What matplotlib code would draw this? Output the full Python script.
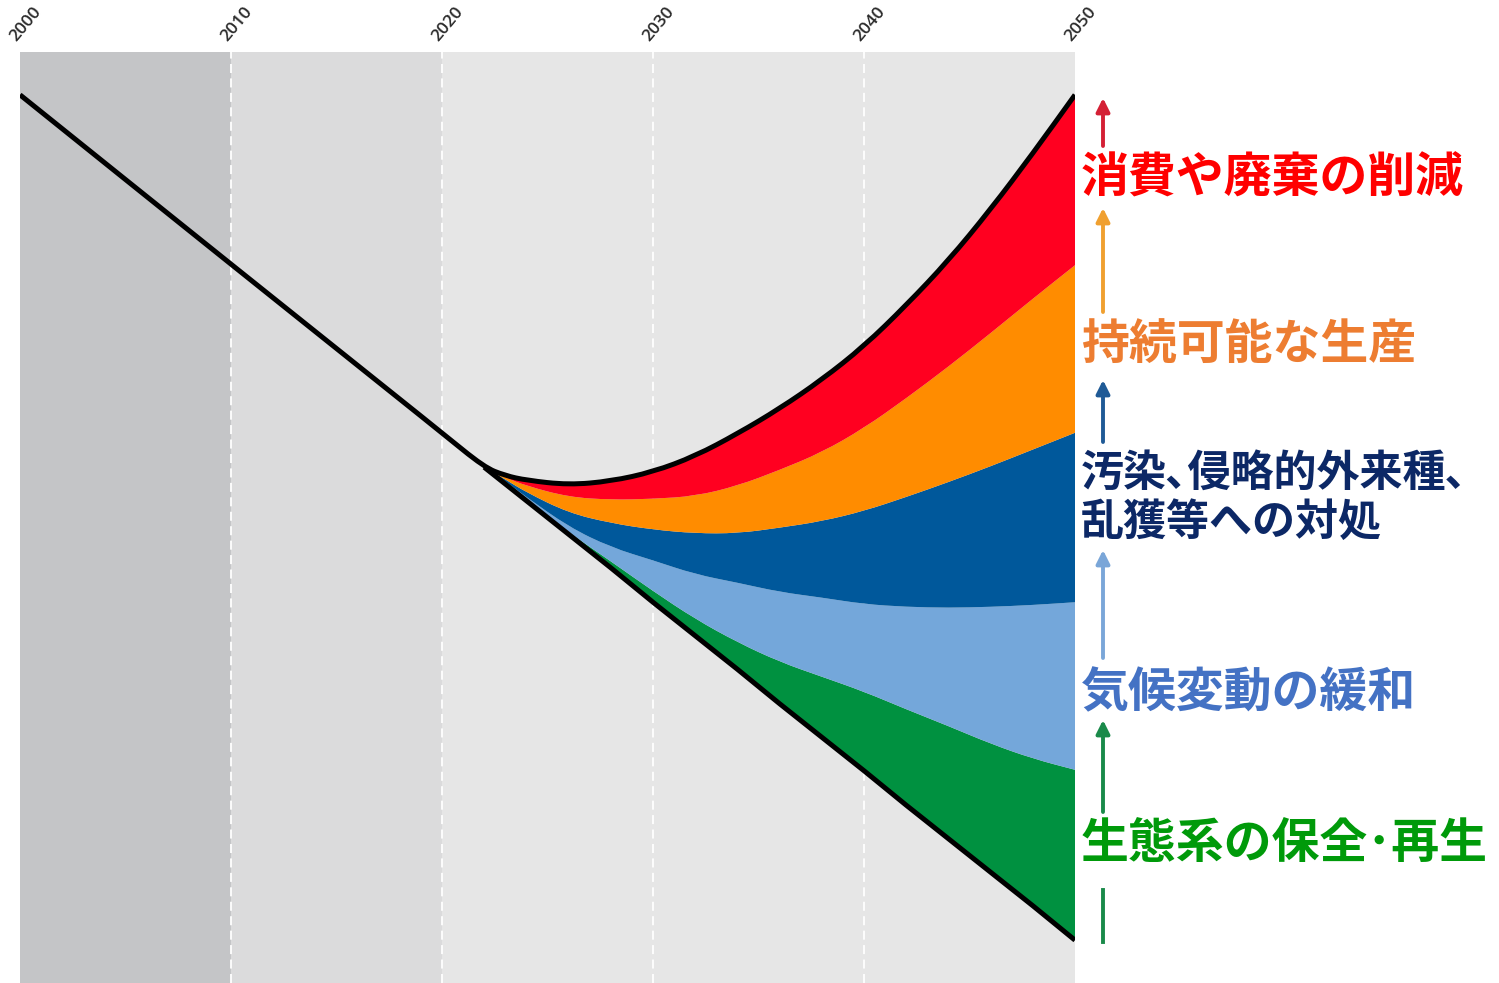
import matplotlib
matplotlib.use("Agg")
import matplotlib.pyplot as plt
from matplotlib.path import Path
from matplotlib.patches import PathPatch, FancyArrowPatch
from matplotlib.lines import Line2D

plt.rcParams['font.family'] = ['Noto Sans CJK JP', 'DejaVu Sans']

# ---- data (biodiversity index) ----
hist_years = [2000, 2010, 2020]
hist_values = [95.4, 77.2, 59.1]

years = [2022, 2023, 2024, 2026, 2028, 2030, 2032, 2034, 2036, 2038, 2040,
         2042, 2044, 2046, 2048, 2050]
# business-as-usual trend (bottom black line)
baseline = [55.4, 53.6, 51.8, 48.2, 44.6, 40.9, 37.3, 33.7, 30.0, 26.4, 22.8,
            19.1, 15.5, 11.9, 8.3, 4.6]
# cumulative upper edges of each action band
conservation = [55.4, 53.7, 51.9, 48.4, 45.3, 42.1, 39.1, 36.6, 34.5, 32.9, 31.3,
                29.4, 27.6, 25.7, 24.1, 22.9]
climate = [55.4, 53.9, 52.2, 49.0, 46.8, 45.4, 43.9, 43.0, 42.0, 41.4, 40.7,
           40.4, 40.3, 40.4, 40.6, 40.9]
threats = [55.4, 54.1, 52.7, 50.5, 49.4, 48.7, 48.3, 48.3, 48.9, 49.6, 50.7,
           52.2, 53.8, 55.5, 57.3, 59.1]
production = [55.4, 54.3, 53.4, 52.2, 51.9, 52.0, 52.3, 53.4, 55.1, 57.0, 59.6,
              62.8, 66.2, 69.8, 73.5, 77.1]
consumption = [55.4, 54.5, 54.0, 53.5, 53.9, 54.9, 56.6, 59.0, 61.7, 64.8, 68.4,
               72.8, 77.6, 83.1, 89.1, 95.4]

decade_ticks = [2000, 2010, 2020, 2030, 2040, 2050]
period_edges = [2000, 2010, 2020, 2050]

labels = ['消費や廃棄の削減', '持続可能な生産', '汚染､侵略的外来種､\n乱獲等への対処',
          '気候変動の緩和', '生態系の保全･再生']

# ---- styles ----
band_colors = ['#009140', '#74a7da', '#00589b', '#ff8c00', '#ff0020']
label_colors = ['#ff0000', '#ed7d31', '#0c2866', '#4472c4', '#009a0a']
label_sizes = [34.5, 34.5, 31, 34.5, 34.5]
arrow_colors = ['#d42035', '#f0a030', '#1f5a96', '#7aa6d8', '#1a8a4a']
period_colors = ['#c4c5c7', '#dbdbdc', '#e6e6e6']


def smooth(xs, ys):
    """Quadratic B-spline style path through the first/last points."""
    n = len(xs)
    verts = [(xs[0], ys[0]), ((xs[0] + xs[1]) / 2, (ys[0] + ys[1]) / 2)]
    codes = [Path.MOVETO, Path.LINETO]
    for i in range(1, n - 1):
        verts += [(xs[i], ys[i]), ((xs[i] + xs[i + 1]) / 2, (ys[i] + ys[i + 1]) / 2)]
        codes += [Path.CURVE3, Path.CURVE3]
    verts.append((xs[-1], ys[-1]))
    codes.append(Path.LINETO)
    return verts, codes


def band_path(xs, lower, upper):
    v1, c1 = smooth(xs, upper)
    v2, c2 = smooth(xs[::-1], lower[::-1])
    c2 = [Path.LINETO] + c2[1:]
    verts = v1 + v2 + [v1[0]]
    codes = c1 + c2 + [Path.CLOSEPOLY]
    return Path(verts, codes)


W, H = 1499, 983
fig = plt.figure(figsize=(W / 100, H / 100), dpi=100)
fig.patch.set_facecolor('white')
ax = fig.add_axes([20 / W, 0, (1075 - 20) / W, 1 - 52 / H])
ax.set_xlim(2000, 2050)
ax.set_ylim(0, 100)

for i in range(len(period_edges) - 1):
    ax.axvspan(period_edges[i], period_edges[i + 1], color=period_colors[i], lw=0, zorder=0)
for yr in decade_ticks[1:-1]:
    ax.axvline(yr, color='white', lw=1.3, ls=(0, (5, 3)), zorder=1)

stack = [baseline, conservation, climate, threats, production, consumption]
for i in range(5):
    ax.add_patch(PathPatch(band_path(years, stack[i], stack[i + 1]),
                           facecolor=band_colors[i], edgecolor='none', lw=0, zorder=2))

# top black line: history + upper edge of the stack
tv, tc = smooth(hist_years + years, hist_values + consumption)
ax.add_patch(PathPatch(Path(tv, tc), facecolor='none', edgecolor='black', lw=3.6,
                       joinstyle='round', capstyle='butt', zorder=4))
ax.plot(years, baseline, color='black', lw=3.6, solid_capstyle='butt', zorder=4)

for s in ax.spines.values():
    s.set_visible(False)
ax.set_xticks([])
ax.set_yticks([])

for yr in decade_ticks:
    ax.annotate(str(yr), xy=(yr, 1), xycoords=('data', 'axes fraction'),
                xytext=(-4, 10), textcoords='offset pixels', rotation=50,
                ha='left', va='baseline', rotation_mode='anchor',
                fontsize=12.5, fontweight='semibold', color='#2a2a2a',
                family=['Open Sans', 'DejaVu Sans'], annotation_clip=False)

# ---- right-hand labels and arrows ----
label_y = [178, 344, 497, 693, 843]
for txt, col, y, fs in zip(labels, label_colors, label_y, label_sizes):
    fig.text(1081 / W, 1 - y / H, txt, color=col, fontsize=fs, fontweight='bold',
             ha='left', va='center', linespacing=1.15)

arrow_spans = [(146, 98), (312, 208), (442, 380), (658, 550), (812, 720)]
ax_x = 1103 / W
for (y0, y1), col in zip(arrow_spans, arrow_colors):
    fig.add_artist(FancyArrowPatch(
        (ax_x, 1 - y0 / H), (ax_x, 1 - y1 / H), transform=fig.transFigure,
        arrowstyle='-|>', mutation_scale=20, lw=2.8, color=col, shrinkA=0, shrinkB=0))
fig.add_artist(Line2D([ax_x, ax_x], [1 - 890 / H, 1 - 942 / H],
                      transform=fig.transFigure, color=arrow_colors[4], lw=2.8))

fig.savefig('out.png', dpi=100, facecolor='white')
